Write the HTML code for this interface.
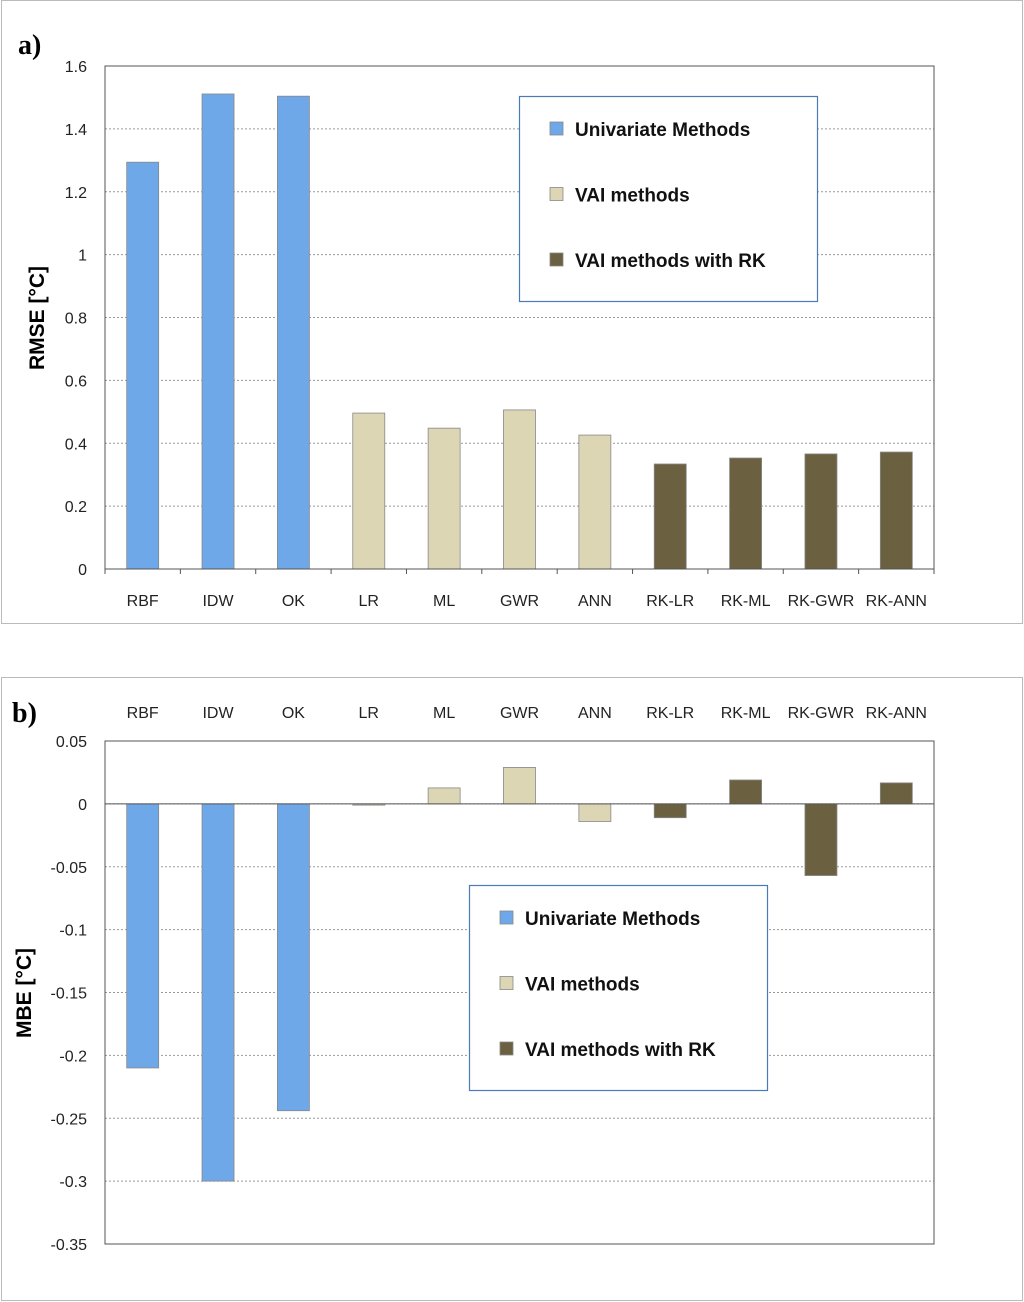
<!DOCTYPE html>
<html><head><meta charset="utf-8"><style>
body{margin:0;background:#fff;}
svg{display:block;font-family:"Liberation Sans",sans-serif;}
</style></head><body>
<svg id="s" width="1024" height="1302"></svg>
<script>
const categories=["RBF","IDW","OK","LR","ML","GWR","ANN","RK-LR","RK-ML","RK-GWR","RK-ANN"];
const groups=[0,0,0,1,1,1,1,2,2,2,2];
const rmseValues=[1.294,1.511,1.504,0.496,0.448,0.506,0.426,0.334,0.353,0.366,0.372];
const mbeValues=[-0.210,-0.300,-0.244,-0.001,0.0127,0.029,-0.014,-0.011,0.019,-0.057,0.0167];
const rmseTicks=[0,0.2,0.4,0.6,0.8,1,1.2,1.4,1.6];
const mbeTicks=[0.05,0,-0.05,-0.1,-0.15,-0.2,-0.25,-0.3,-0.35];
const legendLabels=["Univariate Methods","VAI methods","VAI methods with RK"];
const colors=["#6fa8e8","#ddd6b4","#6b6040"];
const NS="http://www.w3.org/2000/svg";
const svg=document.getElementById('s');
function mk(t,a,p){const e=document.createElementNS(NS,t);for(const k in a)e.setAttribute(k,a[k]);(p||svg).appendChild(e);return e;}
function txt(x,y,s,a,p){const e=mk('text',Object.assign({x:x,y:y},a),p);e.textContent=s;return e;}

function panel(o){
  const g=mk('g',{});
  
  
  mk('rect',{x:1.5,y:o.boxY+0.5,width:1021,height:623,fill:'#fff',stroke:'#bbb'},g);
  const X0=105,X1=934,Y0=o.yTop,Y1=o.yBot;
  const y=v=>Y1-(v-o.min)/(o.max-o.min)*(Y1-Y0);
  const cw=(X1-X0)/categories.length;
  const x=i=>X0+cw*(i+0.5);
  o.ticks.forEach(t=>{
    const yy=y(t);
    const l=mk('line',{x1:X0,x2:X1,y1:yy,y2:yy,stroke:'#999','stroke-dasharray':'2,2','stroke-width':1},g);
    
    const tl=txt(87,yy+6,String(t),{'text-anchor':'end','font-size':16,fill:'#222'},g);
    
  });
  mk('rect',{x:X0,y:Y0,width:X1-X0,height:Y1-Y0,fill:'none',stroke:'#555'},g);
  const y0=y(0);
  o.values.forEach((v,i)=>{
    const top=Math.min(y(v),y0),h=Math.max(Math.abs(y(v)-y0),1);
    const b=mk('rect',{x:x(i)-16,y:top,width:32,height:h,fill:colors[groups[i]],stroke:'#888','stroke-width':0.8},g);
    
    
    const c=txt(x(i),o.labelY,categories[i],{'text-anchor':'middle','font-size':16,fill:'#222'},g);
    
  });
  mk('line',{x1:X0,x2:X1,y1:y0,y2:y0,stroke:'#555'},g);
  if(o.xTicks){for(let i=0;i<=categories.length;i++){mk('line',{x1:X0+cw*i,x2:X0+cw*i,y1:y0,y2:y0+5,stroke:'#555'},g);}}
  const yt=txt(0,0,o.ytitle,{'font-size':21,'font-weight':'bold',fill:'#000','text-anchor':'middle',transform:`translate(${o.ytX},${o.ytY}) rotate(-90)`},g);
  
  const pl=txt(o.plX,o.plY,o.plabel,{'font-size':28,'font-weight':'bold','font-family':'Liberation Serif,serif',fill:'#000'},g);
  
  const lg=mk('g',{},g);
  
  mk('rect',{x:o.lx+0.5,y:o.ly+0.5,width:298,height:205,fill:'#fff',stroke:'#4a7ab8','stroke-width':1.2},lg);
  legendLabels.forEach((s,i)=>{
    const ey=o.ly+33+i*65.5;
    const e=mk('g',{},lg);
    
    mk('rect',{x:o.lx+31,y:ey-7,width:13,height:13,fill:colors[i],stroke:'#888','stroke-width':0.8},e);
    txt(o.lx+56,ey+7,s,{'font-size':19,'font-weight':'bold',fill:'#111'},e);
  });
}
panel({name:'rmse-chart',boxY:0,yTop:66,yBot:569,min:0,max:1.6,ticks:rmseTicks,values:rmseValues,labelY:606,xTicks:true,ytitle:'RMSE [°C]',ytX:44,ytY:318,plabel:'a)',plX:18,plY:54,lx:519,ly:96});
panel({name:'mbe-chart',boxY:677,yTop:741,yBot:1244,min:-0.35,max:0.05,ticks:mbeTicks,values:mbeValues,labelY:718,xTicks:false,ytitle:'MBE [°C]',ytX:31,ytY:993,plabel:'b)',plX:12,plY:722,lx:469,ly:885});
</script>
</body></html>
